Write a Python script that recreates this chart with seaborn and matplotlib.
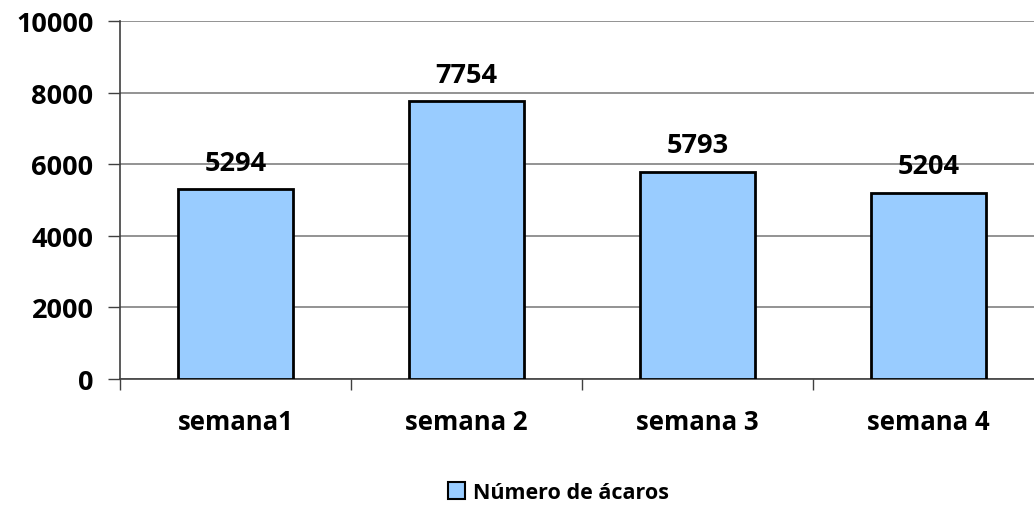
import matplotlib
matplotlib.use("Agg")
import matplotlib.pyplot as plt
import seaborn as sns
import pandas as pd
from matplotlib.ticker import FixedLocator

categories = ["semana1", "semana 2", "semana 3", "semana 4"]
values = [5294, 7754, 5793, 5204]
series_name = "Número de ácaros"
y_ticks = [0, 2000, 4000, 6000, 8000, 10000]

sns.set_theme(style="white")
plt.rcParams["font.family"] = ["Open Sans", "DejaVu Sans"]
plt.rcParams["font.weight"] = "bold"
plt.rcParams["text.color"] = "black"
plt.rcParams["xtick.color"] = "black"
plt.rcParams["ytick.color"] = "black"

FS_NUM = 19.5
FS_CAT = 18.5
FS_LEG = 15.5

df = pd.DataFrame({"semana": categories, "acaros": values})

fig = plt.figure(figsize=(10.34, 5.06), dpi=100)
# the plot area runs slightly past the right edge of the figure
ax = fig.add_axes([0.116, 0.249, 0.8936, 0.7075])

sns.barplot(data=df, x="semana", y="acaros", color="#99CCFF", saturation=1,
            width=0.5, edgecolor="black", linewidth=2, ax=ax, label=series_name,
            zorder=3)

ax.set_ylim(0, 10000)
ax.set_xlim(-0.5, 3.5)
ax.set_yticks(y_ticks)
ax.set_yticklabels([str(t) for t in y_ticks], fontsize=FS_NUM, fontweight="bold",
                   color="black")
ax.set_xticks(range(len(categories)))
ax.set_xticklabels(categories, fontsize=FS_CAT, fontweight="bold", color="black")
ax.tick_params(axis="x", which="major", length=0, pad=21)
ax.xaxis.set_minor_locator(FixedLocator([-0.5, 0.5, 1.5, 2.5, 3.5]))
ax.tick_params(axis="x", which="minor", bottom=True, length=8, width=1, color="#404040")
ax.tick_params(axis="y", which="major", left=True, length=9, width=1, color="#404040", pad=10)
ax.set_xlabel("")
ax.set_ylabel("")

ax.yaxis.grid(True, color="#808080", linewidth=1.2, zorder=0)
ax.set_axisbelow(True)
for side in ["top", "right"]:
    ax.spines[side].set_visible(False)
ax.spines["left"].set_color("#404040")
ax.spines["left"].set_linewidth(1.2)
ax.spines["bottom"].set_color("#404040")
ax.spines["bottom"].set_linewidth(1.2)

for container in ax.containers:
    ax.bar_label(container, labels=[str(v) for v in values], padding=10,
                 fontsize=FS_NUM, fontweight="bold", color="black")

leg = ax.legend(loc="center", bbox_to_anchor=(0.54, 0.025), bbox_transform=fig.transFigure,
                frameon=False, handlelength=0.8, handleheight=0.8,
                handletextpad=0.35, prop={"weight": "bold", "size": FS_LEG})
for h in leg.legend_handles:
    h.set_linewidth(1.5)
    h.set_edgecolor("black")
for t in leg.get_texts():
    t.set_color("black")

fig.savefig("out.png", dpi=100)
